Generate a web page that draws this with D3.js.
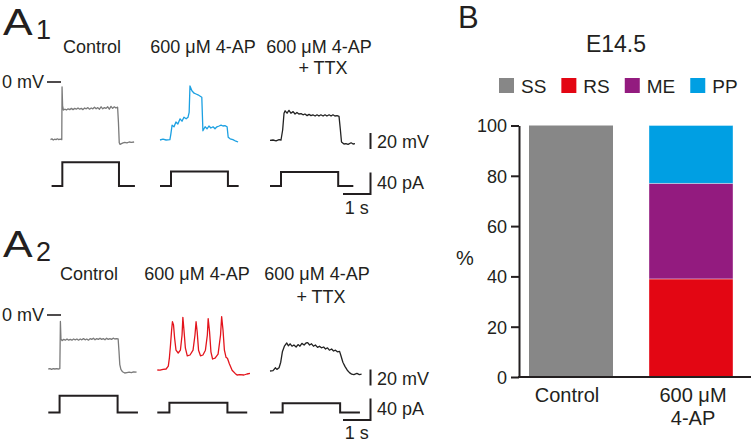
<!DOCTYPE html>
<html>
<head>
<meta charset="utf-8">
<script src="https://cdn.jsdelivr.net/npm/d3@7"></script>
<style>
  body { margin: 0; background: #fff; }
  svg { display: block; font-family: "Liberation Sans", Arial, Helvetica, sans-serif; }
  text { fill: #231f20; }
</style>
</head>
<body>
<div id="chart"></div>
<script>
// ---- panel A: recorded traces, time in s, voltage in mV, current in pA ----
var colTitles = ['Control', '600 \u03bcM 4-AP', '600 \u03bcM 4-AP'];

var a1Control = [[0,-72],[0.05,-71],[0.1,-72.5],[0.15,-71.5],[0.2,-72],[0.25,-71],[0.3,-72],[0.35,-71.5],[0.41,-72],
  [0.42,-6],[0.44,-30],[0.47,-35],[0.52,-34],[0.58,-35],[0.64,-33.5],[0.7,-34.5],[0.76,-33],[0.82,-34.5],[0.88,-33],
  [0.94,-34],[1.0,-32.5],[1.06,-34],[1.12,-33],[1.18,-34.5],[1.24,-32.5],[1.3,-33.5],[1.36,-32],[1.42,-34],[1.48,-32.5],
  [1.54,-33.5],[1.6,-31.5],[1.66,-33.5],[1.72,-32],[1.78,-34],[1.84,-31],[1.9,-33.5],[1.96,-32],[2.02,-33],[2.08,-31],
  [2.14,-34],[2.2,-30.5],[2.26,-33],[2.32,-31],[2.38,-32.5],[2.44,-31.5],[2.47,-50],[2.5,-76],[2.53,-78],[2.58,-77],
  [2.64,-76],[2.7,-75.5],[2.78,-76],[2.86,-75],[2.94,-75.5],[3.04,-75]];
var a1FourAP = [[0,-72.5],[0.11,-71.5],[0.22,-72.5],[0.36,-72],[0.39,-66],[0.44,-54],[0.51,-56],[0.58,-50],[0.65,-52.5],
  [0.73,-46],[0.8,-49],[0.87,-44],[0.95,-46],[1.02,-44],[1.06,-38],[1.09,-5],[1.16,-11],[1.24,-14],[1.31,-15],[1.38,-16],
  [1.45,-17.5],[1.52,-19],[1.56,-61],[1.64,-56],[1.71,-58.5],[1.78,-55],[1.85,-57.5],[1.93,-56],[2.0,-58.5],[2.07,-56],
  [2.15,-55],[2.22,-54],[2.29,-55],[2.36,-54.5],[2.44,-56],[2.48,-69],[2.55,-71],[2.65,-72],[2.76,-74],[2.84,-75]];
var a1TTX = [[0,-73],[0.11,-72.5],[0.22,-73.5],[0.33,-72],[0.4,-72.5],[0.46,-60],[0.51,-39],[0.55,-36],[0.62,-39],
  [0.69,-35.5],[0.76,-39],[0.84,-37],[0.91,-40],[0.98,-38],[1.05,-40],[1.13,-39.5],[1.2,-41],[1.27,-40],[1.35,-42],
  [1.42,-40.5],[1.49,-42],[1.56,-41],[1.64,-42.5],[1.71,-41],[1.78,-42.5],[1.85,-41],[1.93,-42.5],[2.0,-41],[2.07,-42.5],
  [2.15,-41],[2.22,-42.5],[2.29,-41],[2.36,-42.5],[2.44,-42],[2.51,-43],[2.56,-60],[2.6,-75],[2.69,-77.5],[2.76,-77],
  [2.84,-78],[2.95,-76],[3.02,-77.5],[3.09,-77]];
var a1ControlI = [[0.04,0],[0.43,0],[0.43,44],[2.49,44],[2.49,0],[3.07,0]];
var a1FourAPI = [[0,0],[0.4,0],[0.4,27],[2.47,27],[2.47,0],[2.86,0]];
var a1TTXI = [[0,0],[0.4,0],[0.4,26],[2.48,26],[2.48,0],[3.03,0]];

var a2Control = [[0,-67.5],[0.06,-67],[0.12,-68],[0.18,-67],[0.24,-67.5],[0.3,-67],[0.36,-67.5],[0.42,-67],[0.44,-8],
  [0.46,-30],[0.5,-32],[0.56,-30.5],[0.62,-31.5],[0.68,-30],[0.74,-31.5],[0.8,-30.5],[0.86,-31.5],[0.92,-30],[0.98,-31],
  [1.04,-30],[1.1,-31.5],[1.16,-30],[1.22,-31],[1.28,-29.5],[1.34,-31],[1.4,-30],[1.46,-31.5],[1.52,-29.5],[1.58,-30.5],
  [1.64,-29],[1.7,-31],[1.76,-29.5],[1.82,-30.5],[1.88,-29],[1.94,-30.5],[2.0,-29.5],[2.06,-31],[2.12,-29],[2.18,-30.5],
  [2.24,-29.5],[2.3,-30.5],[2.36,-29],[2.42,-30],[2.48,-29.5],[2.54,-30],[2.57,-45],[2.6,-62],[2.64,-68],[2.7,-71],
  [2.78,-72.5],[2.86,-72],[2.94,-71.5],[3.02,-72],[3.1,-71],[3.21,-71.5]];
var a2FourAP = [[0,-68.75],[0.1,-69],[0.21,-68],[0.32,-67.5],[0.4,-64],[0.44,-53.5],[0.48,-37.5],[0.52,-19],[0.55,-8.4],
  [0.59,-12.5],[0.63,-29],[0.68,-44],[0.76,-47.5],[0.84,-44],[0.9,-25],[0.93,-3],[0.97,-19],[1.02,-41],[1.09,-51],
  [1.19,-50],[1.3,-44],[1.37,-25],[1.41,-8.4],[1.45,-21],[1.5,-44],[1.57,-51],[1.66,-50],[1.75,-44],[1.82,-25],
  [1.85,-4.5],[1.9,-21],[1.95,-46],[2.01,-55],[2.1,-54],[2.21,-49],[2.3,-25],[2.34,-2],[2.39,-19],[2.44,-44],[2.5,-53],
  [2.55,-54],[2.62,-61],[2.72,-69],[2.83,-73],[2.9,-75],[3.0,-74.5],[3.15,-75],[3.26,-73.75],[3.37,-73]];
var a2TTX = [[0,-70],[0.11,-69.5],[0.2,-66],[0.25,-68],[0.33,-66],[0.39,-59],[0.45,-46],[0.53,-38.5],[0.61,-35],
  [0.67,-38.5],[0.73,-36],[0.8,-39],[0.87,-37.5],[0.95,-40],[1.02,-37],[1.09,-39],[1.16,-35.5],[1.24,-37.5],[1.31,-35],
  [1.37,-34.5],[1.44,-37.5],[1.51,-36],[1.58,-39],[1.65,-37.5],[1.73,-40.5],[1.8,-39],[1.87,-41],[1.95,-40],[2.02,-42.5],
  [2.09,-41],[2.16,-44],[2.24,-42.5],[2.31,-45],[2.38,-44],[2.45,-46],[2.53,-45.5],[2.58,-51],[2.65,-59],[2.73,-64.5],
  [2.81,-69],[2.89,-72],[2.97,-74],[3.05,-74.5],[3.16,-73],[3.25,-74.5],[3.33,-74]];
var a2ControlI = [[0,0],[0.41,0],[0.41,31],[2.52,31],[2.52,0],[3.26,0]];
var a2FourAPI = [[0,0],[0.44,0],[0.44,18],[2.55,18],[2.55,0],[3.27,0]];
var a2TTXI = [[0,0],[0.46,0],[0.46,17],[2.55,17],[2.55,0],[3.27,0]];

// ---- panel B: stacked percentages ----
var groups = ['Control', '600 \u03bcM 4-AP'];
var groupLines = [['Control'], ['600 \u03bcM', '4-AP']];
var firingTypes = ['SS', 'RS', 'ME', 'PP'];
var ssValues = [100, 0];
var rsValues = [0, 39];
var meValues = [0, 38];
var ppValues = [0, 23];
var yTicks = [0, 20, 40, 60, 80, 100];

var W = 751, H = 442;
var svg = d3.select('#chart').append('svg').attr('width', W).attr('height', H);

var traceColours = ['#7a7a7a', '#1ba0e2', '#e3141c', '#222222'];
var pxPerSec = 27.5, pxPerMv = 0.8, pxPerPa = 0.5375;

var rows = [
  { sub: '1', aY: 35, titleY: 53, ttxY: 74, zeroY: 82, iBase: 186, cols: [50.5, 160, 270],
    volts: [a1Control, a1FourAP, a1TTX], amps: [a1ControlI, a1FourAPI, a1TTXI], colour2: traceColours[1],
    vBarBottom: 149, iBarBottom: 194, secY: 214 },
  { sub: '2', aY: 257, titleY: 280, ttxY: 303, zeroY: 315, iBase: 412.5, cols: [48.3, 157.3, 270],
    volts: [a2Control, a2FourAP, a2TTX], amps: [a2ControlI, a2FourAPI, a2TTXI], colour2: traceColours[2],
    vBarBottom: 385.5, iBarBottom: 420, secY: 439 }
];
var titleCentres = [[92, 203, 319], [89, 197, 317]];

rows.forEach(function(row, r) {
  var g = svg.append('g');

  // panel letter, a little wider than the font draws it
  g.append('text').attr('transform', 'translate(3,' + row.aY + ') scale(1.2,1)')
    .style('font-size', '37px').text('A');
  g.append('text').attr('x', 36).attr('y', row.aY + 4).style('font-size', '27px').text(row.sub);

  colTitles.forEach(function(t, c) {
    g.append('text').attr('x', titleCentres[r][c]).attr('y', row.titleY)
      .attr('text-anchor', 'middle').style('font-size', '18px').text(t);
  });
  g.append('text').attr('x', titleCentres[r][2] + 4).attr('y', row.ttxY)
    .attr('text-anchor', 'middle').style('font-size', '18px').text('+ TTX');

  var vScale = d3.scaleLinear().domain([0, -20]).range([row.zeroY, row.zeroY + 20 * pxPerMv]);
  var iScale = d3.scaleLinear().domain([0, 40]).range([row.iBase, row.iBase - 40 * pxPerPa]);

  // 0 mV marker
  g.append('text').attr('x', 44).attr('y', row.zeroY + 6).attr('text-anchor', 'end')
    .style('font-size', '18px').text('0 mV');
  g.append('line').attr('x1', 47).attr('x2', 61).attr('y1', vScale(0)).attr('y2', vScale(0))
    .attr('stroke', '#231f20').attr('stroke-width', 1.6);

  row.cols.forEach(function(x0, c) {
    var xScale = d3.scaleLinear().domain([0, 1]).range([x0, x0 + pxPerSec]);
    var vLine = d3.line().x(function(d) { return xScale(d[0]); }).y(function(d) { return vScale(d[1]); });
    var iLine = d3.line().x(function(d) { return xScale(d[0]); }).y(function(d) { return iScale(d[1]); });
    var colour = c === 0 ? traceColours[0] : (c === 1 ? row.colour2 : traceColours[3]);

    g.append('path').datum(row.volts[c]).attr('d', vLine)
      .attr('fill', 'none').attr('stroke', colour).attr('stroke-width', 1.3)
      .attr('stroke-linejoin', 'round');
    g.append('path').datum(row.amps[c]).attr('d', iLine)
      .attr('fill', 'none').attr('stroke', '#231f20').attr('stroke-width', 2);
  });

  // scale bars
  var bx = 370.5;
  var vb = d3.scaleLinear().domain([0, 20]).range([row.vBarBottom, row.vBarBottom - 20 * pxPerMv]);
  var ib = d3.scaleLinear().domain([0, 40]).range([row.iBarBottom, row.iBarBottom - 40 * pxPerPa]);
  var tb = d3.scaleLinear().domain([0, 1]).range([bx, bx - pxPerSec]);
  g.append('line').attr('x1', bx).attr('x2', bx).attr('y1', vb(0)).attr('y2', vb(20))
    .attr('stroke', '#231f20').attr('stroke-width', 2);
  g.append('path').attr('d', 'M' + tb(1) + ',' + ib(0) + 'H' + bx + 'V' + ib(40))
    .attr('fill', 'none').attr('stroke', '#231f20').attr('stroke-width', 2);
  g.append('text').attr('x', 377).attr('y', vb(0) - 1).style('font-size', '18px').text('20 mV');
  g.append('text').attr('x', 377).attr('y', ib(0) - 5).style('font-size', '18px').text('40 pA');
  g.append('text').attr('x', tb(0.5)).attr('y', row.secY).attr('text-anchor', 'middle')
    .style('font-size', '18px').text('1 s');
});

// ---- panel B ----
var typeColours = ['#878787', '#e30613', '#931b7f', '#009fe3'];
var seriesValues = [ssValues, rsValues, meValues, ppValues];

svg.append('text').attr('x', 458).attr('y', 28).style('font-size', '31px').text('B');
svg.append('text').attr('x', 616).attr('y', 52).attr('text-anchor', 'middle')
  .style('font-size', '23px').text('E14.5');

var lx = 499;
firingTypes.forEach(function(t, i) {
  svg.append('rect').attr('x', lx).attr('y', 78).attr('width', 15).attr('height', 15)
    .attr('fill', typeColours[i]);
  var tx = svg.append('text').attr('x', lx + 22).attr('y', 93).style('font-size', '19px').text(t);
  lx += 22 + tx.node().getComputedTextLength() + 15;
});

var x = d3.scaleBand().domain(groups).range([519, 743]).paddingInner(0.3).paddingOuter(1 / 12);
var y = d3.scaleLinear().domain([0, 100]).range([377, 125.5]);

var table = groups.map(function(gname, i) {
  var row = { group: gname };
  firingTypes.forEach(function(t, k) { row[t] = seriesValues[k][i]; });
  return row;
});
var stacked = d3.stack().keys(firingTypes)(table);

svg.append('g').selectAll('g').data(stacked).enter().append('g')
  .attr('fill', function(d, i) { return typeColours[i]; })
  .selectAll('rect').data(function(d) { return d; }).enter()
  .filter(function(d) { return d[1] - d[0] > 0; })
  .append('rect')
  .attr('x', function(d) { return x(d.data.group); })
  .attr('width', x.bandwidth())
  .attr('y', function(d) { return y(d[1]); })
  .attr('height', function(d) { return y(d[0]) - y(d[1]); })
  .attr('stroke', function(d) { return d.data.group === groups[1] ? 'rgba(255,255,255,0.45)' : 'none'; })
  .attr('stroke-width', 0.8);

var yAxis = svg.append('g').attr('transform', 'translate(519,0)')
  .call(d3.axisLeft(y).tickValues(yTicks).tickSize(8).tickPadding(4).tickSizeOuter(0));
yAxis.select('.domain').attr('stroke', '#231f20').attr('stroke-width', 2);
yAxis.selectAll('.tick line').attr('stroke', '#231f20').attr('stroke-width', 2);
yAxis.selectAll('.tick text').style('font-size', '18px').style('font-family', 'inherit')
  .attr('fill', '#231f20').attr('dy', '0.36em');

svg.append('line').attr('x1', 518).attr('x2', 751).attr('y1', y(0)).attr('y2', y(0))
  .attr('stroke', '#231f20').attr('stroke-width', 2);

svg.append('text').attr('x', 465).attr('y', 265).attr('text-anchor', 'middle')
  .style('font-size', '20px').text('%');

var labelNudge = [-4, 2];
groups.forEach(function(gname, i) {
  groupLines[i].forEach(function(line, k) {
    svg.append('text').attr('x', x(gname) + x.bandwidth() / 2 + labelNudge[i]).attr('y', 402 + k * 23)
      .attr('text-anchor', 'middle').style('font-size', '20px').text(line);
  });
});
</script>
</body>
</html>
